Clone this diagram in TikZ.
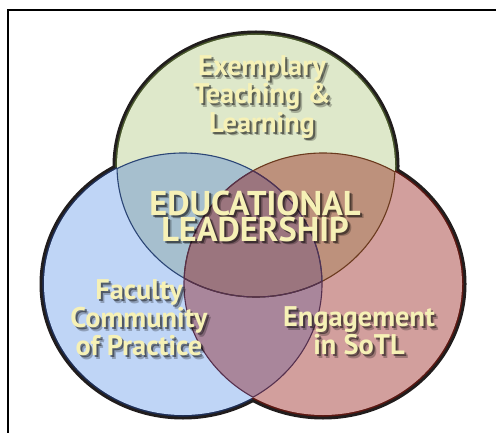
\documentclass[tikz,border=0pt]{standalone}
\usepackage{fontspec}
\setsansfont{PT Sans}
\usetikzlibrary{calc}

\definecolor{greenfill}{HTML}{DEE8CA}
\definecolor{bluefill}{HTML}{BFD5F6}
\definecolor{redfill}{HTML}{D29F9D}
\definecolor{gbfill}{HTML}{A6BFCE}
\definecolor{grfill}{HTML}{BD917C}
\definecolor{brfill}{HTML}{A9869B}
\definecolor{allfill}{HTML}{9B757E}
\definecolor{rimdark}{HTML}{211D1D}
\definecolor{greenrim}{HTML}{46552A}
\definecolor{bluerim}{HTML}{1E2E55}
\definecolor{redrim}{HTML}{5C1812}
\definecolor{navyedge}{HTML}{2B4575}
\definecolor{brownedge}{HTML}{6B3A1E}
\definecolor{purpedge}{HTML}{55304E}
\definecolor{labyellow}{HTML}{F6F1B6}

% the three sets
\def\greenset{(256,166) ellipse [x radius=139, y radius=131]}
\def\blueset{(183,284) ellipse [x radius=139, y radius=131]}
\def\redset{(323,284) ellipse [x radius=139, y radius=131]}

% label with soft drop shadow
\newcommand{\vennlabel}[4]{%
  \node[labshade, #3, opacity=0.25] (#1-s2) at ($#2+(3.5,3.5)$) {#4};
  \node[labshade, #3] (#1-s1) at ($#2+(2,2)$) {#4};
  \node[lab, #3] (#1) at #2 {#4};
}

\begin{document}
\begin{tikzpicture}[
  x=0.5pt, y=-0.5pt,
  rim/.style={line width=4.5pt, draw=rimdark},
  tint/.style={line width=1.6pt},
  edge/.style={line width=0.55pt},
  lab/.style={align=center, text=labyellow, inner sep=0pt},
  labshade/.style={lab, text=black, opacity=0.45},
  bigfont/.style={font=\sffamily\bfseries\fontsize{17.2}{13}\selectfont},
  setfont/.style={font=\sffamily\bfseries\fontsize{14.2}{12.8}\selectfont},
]
\useasboundingbox (0,0) rectangle (496,432);
\clip (0,0) rectangle (496,432);
\fill[white] (0,0) rectangle (496,432);

% ---------- frame ----------
\draw[line width=1pt] (8,10) rectangle (520,460);

% ---------- outer rim ----------
\draw[rim] \greenset;
\draw[rim] \blueset;
\draw[rim] \redset;
\draw[tint, draw=greenrim] \greenset;
\draw[tint, draw=bluerim] \blueset;
\draw[tint, draw=redrim] \redset;

% ---------- regions ----------
\fill[greenfill] \greenset;
\fill[bluefill] \blueset;
\fill[redfill] \redset;
\begin{scope}
  \clip \greenset;
  \fill[gbfill] \blueset;
  \fill[grfill] \redset;
\end{scope}
\begin{scope}
  \clip \blueset;
  \fill[brfill] \redset;
  \clip \greenset;
  \fill[allfill] \redset;
\end{scope}

% ---------- inner edges ----------
\begin{scope}
  \clip \blueset;
  \draw[edge, navyedge] \greenset;
\end{scope}
\begin{scope}
  \clip \redset;
  \draw[edge, brownedge] \greenset;
\end{scope}
\begin{scope}
  \clip \greenset;
  \draw[edge, navyedge] \blueset;
  \draw[edge, brownedge] \redset;
\end{scope}
\begin{scope}
  \clip \blueset;
  \draw[edge, purpedge] \redset;
  \clip \redset;
  \draw[edge, purpedge] \greenset;
\end{scope}
\begin{scope}
  \clip \redset;
  \draw[edge, purpedge] \blueset;
\end{scope}

% ---------- labels ----------
\vennlabel{teach}{(262,97)}{setfont}{Exemplary\\Teaching \&\\Learning}
\vennlabel{faculty}{(139,318)}{setfont}{Faculty\\Community\\of Practice}
\vennlabel{sotl}{(359,331)}{setfont}{Engagement\\in SoTL}
\vennlabel{lead}{(255,216)}{bigfont}{EDUCATIONAL\\LEADERSHIP}
\end{tikzpicture}
\end{document}
